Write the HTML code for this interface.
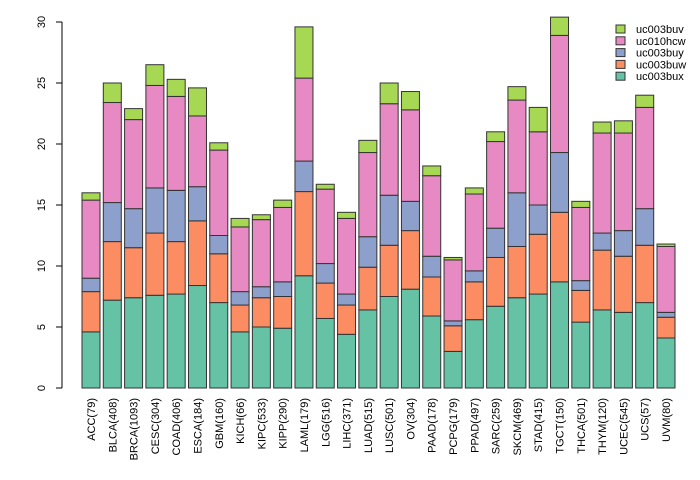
<!DOCTYPE html>
<html><head><meta charset="utf-8"><style>body{margin:0;background:#fff}svg{display:block;font-family:"Liberation Sans",sans-serif}</style></head>
<body>
<svg id="chart" width="700" height="480" xmlns="http://www.w3.org/2000/svg"></svg>
<script>
const categories=["ACC(79)","BLCA(408)","BRCA(1093)","CESC(304)","COAD(406)","ESCA(184)","GBM(160)","KICH(66)","KIPC(533)","KIPP(290)","LAML(179)","LGG(516)","LIHC(371)","LUAD(515)","LUSC(501)","OV(304)","PAAD(178)","PCPG(179)","PPAD(497)","SARC(259)","SKCM(469)","STAD(415)","TGCT(150)","THCA(501)","THYM(120)","UCEC(545)","UCS(57)","UVM(80)"];
const uc003bux=[4.6,7.2,7.4,7.6,7.7,8.4,7.0,4.6,5.0,4.9,9.2,5.7,4.4,6.4,7.5,8.1,5.9,3.0,5.6,6.7,7.4,7.7,8.7,5.4,6.4,6.2,7.0,4.1];
const uc003buw=[3.3,4.8,4.1,5.1,4.3,5.3,4.0,2.2,2.4,2.6,6.9,2.9,2.4,3.5,4.2,4.8,3.2,2.1,3.1,4.0,4.2,4.9,5.7,2.6,4.9,4.6,4.7,1.7];
const uc003buy=[1.1,3.2,3.2,3.7,4.2,2.8,1.5,1.1,0.9,1.2,2.5,1.6,0.9,2.5,4.1,2.4,1.7,0.4,0.9,2.4,4.4,2.4,4.9,0.8,1.4,2.1,3.0,0.4];
const uc010hcw=[6.4,8.2,7.3,8.4,7.7,5.8,7.0,5.3,5.5,6.1,6.8,6.1,6.2,6.9,7.5,7.5,6.6,5.0,6.3,7.1,7.6,6.0,9.6,6.0,8.2,8.0,8.3,5.4];
const uc003buv=[0.6,1.6,0.9,1.7,1.4,2.3,0.6,0.7,0.4,0.6,4.2,0.4,0.5,1.0,1.7,1.5,0.8,0.2,0.5,0.8,1.1,2.0,1.5,0.5,0.9,1.0,1.0,0.2];
const yTicks=[0,5,10,15,20,25,30];
const series=[["uc003bux",uc003bux,"#66c2a5"],["uc003buw",uc003buw,"#fc8d62"],["uc003buy",uc003buy,"#8da0cb"],["uc010hcw",uc010hcw,"#e78ac3"],["uc003buv",uc003buv,"#a6d854"]];
const svg=document.getElementById('chart');const NS="http://www.w3.org/2000/svg";
function mk(t,a,p){const e=document.createElementNS(NS,t);for(const k in a)e.setAttribute(k,a[k]);(p||svg).appendChild(e);return e;}
const y0=388,yTop=22,yMax=30;
function yS(v){return y0-(v/yMax)*(y0-yTop);}
const x0=82,pitch=575/27,bw=18;
function xS(i){return x0+i*pitch;}
const ax=mk('g',{});
mk('line',{x1:62,x2:62,y1:yS(0),y2:yS(30),stroke:'#000'},ax);
yTicks.forEach(t=>{mk('line',{x1:56,x2:62,y1:yS(t),y2:yS(t),stroke:'#000'},ax);
const tx=mk('text',{x:45,y:yS(t),'font-size':11,'text-anchor':'middle',transform:`rotate(-90 45 ${yS(t)})`},ax);tx.textContent=t;
});
categories.forEach((c,i)=>{let cum=0;
series.forEach(([n,vals,col])=>{const v=vals[i];const r=mk('rect',{x:xS(i),y:yS(cum+v),width:bw,height:yS(cum)-yS(cum+v),fill:col,stroke:'#333','stroke-width':1});
cum+=v;});
const cx=xS(i)+bw/2+4;const lab=mk('text',{x:cx,y:398,'font-size':11,'text-anchor':'end',transform:`rotate(-90 ${cx} 398)`});lab.textContent=c;
});
const lg=mk('g',{});
[...series].reverse().forEach(([n,v,col],k)=>{const y=25+k*11.8;
const r=mk('rect',{x:616,y:y,width:9,height:8,fill:col,stroke:'#333'},lg);
const t=mk('text',{x:636,y:y+8,'font-size':11},lg);t.textContent=n;});
</script>
</body></html>
